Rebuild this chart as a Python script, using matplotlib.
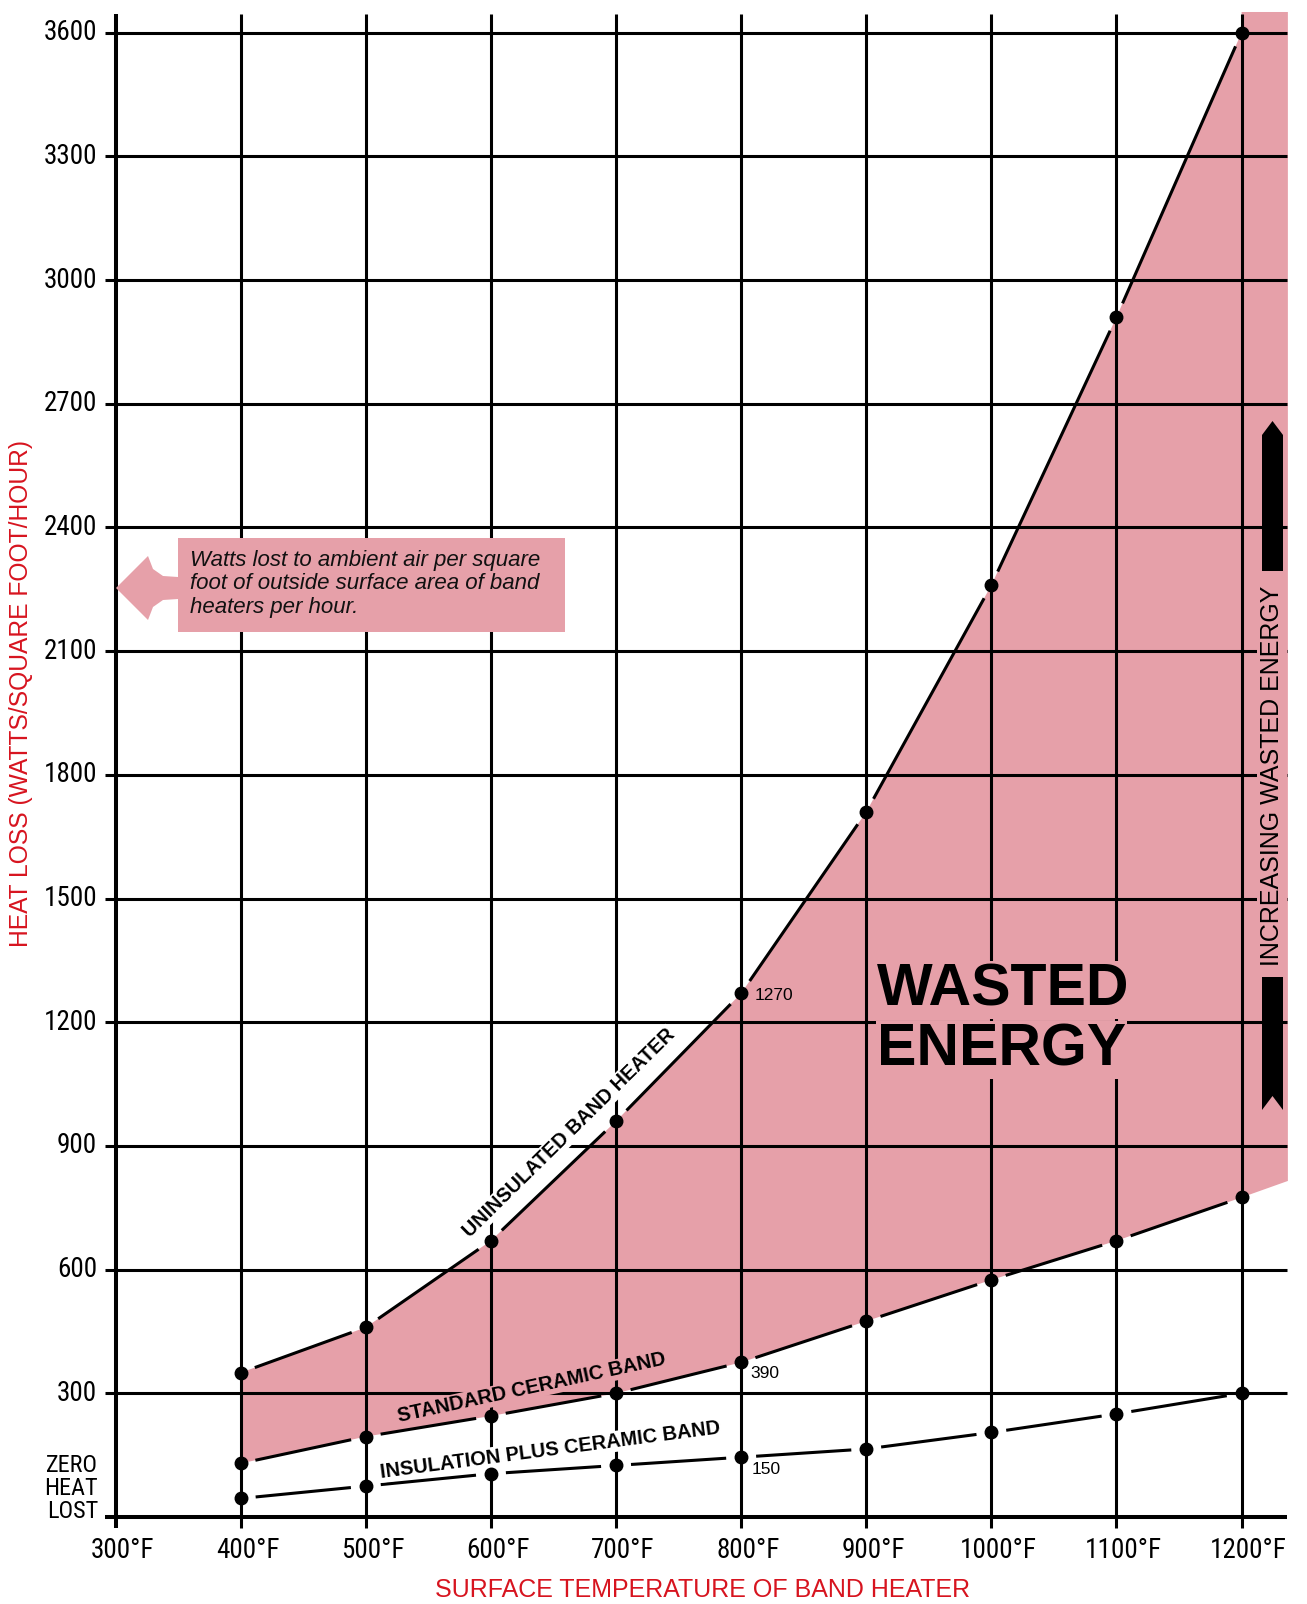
import numpy as np
import matplotlib
matplotlib.use("Agg")
import matplotlib.pyplot as plt
import matplotlib.font_manager as fm
from matplotlib.patches import Polygon

# ---------------- data ----------------
temps = [400, 500, 600, 700, 800, 900, 1000, 1100, 1200]
uninsulated = [350, 460, 670, 960, 1270, 1710, 2260, 2910, 3600]
standard = [130, 195, 245, 300, 375, 475, 575, 670, 775]
insulated = [45, 75, 105, 125, 145, 165, 205, 250, 300]

x_ticks = [300, 400, 500, 600, 700, 800, 900, 1000, 1100, 1200]
x_tick_labels = ["300°F", "400°F", "500°F", "600°F", "700°F", "800°F",
                 "900°F", "1000°F", "1100°F", "1200°F"]
y_ticks = [0, 300, 600, 900, 1200, 1500, 1800, 2100, 2400, 2700, 3000, 3300, 3600]
y_tick_labels = ["", "300", "600", "900", "1200", "1500", "1800", "2100",
                 "2400", "2700", "3000", "3300", "3600"]
zero_label_lines = ["ZERO", "HEAT", "LOST"]

pink_edge_temp = 1237          # right edge of shaded band
pink_top_value = 3650          # top of shaded band past 1200°F
standard_at_edge = 815         # standard line value at right edge

PINK = "#E6A0A9"
RED = "#D7141F"

# ---------------- fonts ----------------
def find_narrow():
    cands = []
    for f in fm.fontManager.ttflist:
        n = f.name.lower()
        st = str(f.stretch).lower()
        if f.style != "normal":
            continue
        w = f.weight
        try:
            w = int(w)
        except Exception:
            w = {"normal": 400, "regular": 400, "book": 400, "medium": 500}.get(str(w).lower(), 700)
        if w > 500:
            continue
        if "narrow" in n or "condensed" in n or "condensed" in st or "narrow" in f.fname.lower() \
                or "condensed" in f.fname.lower():
            if "mono" in n or "serif" in n and "sans" not in n:
                continue
            cands.append(f)
    def rank(f):
        n = f.name.lower() + f.fname.lower()
        if "liberation" in n:
            return 0
        if "roboto" in n:
            return 1
        if "dejavu" in n:
            return 2
        return 3
    cands.sort(key=rank)
    if cands:
        return fm.FontProperties(fname=cands[0].fname), True
    return fm.FontProperties(family="Liberation Sans"), False

narrow_fp, have_narrow = find_narrow()
tick_size = 19.5 if have_narrow else 16.5
zero_size = 17.5 if have_narrow else 14.5

plt.rcParams["font.family"] = ["Liberation Sans", "DejaVu Sans"]

# ---------------- figure / pixel mapping ----------------
W, H = 1307, 1604
fig = plt.figure(figsize=(W / 100, H / 100), dpi=100)
ax = fig.add_axes([0, 0, 1, 1])
ax.set_axis_off()

X0, XS = 115.6, 1.2511     # px of 300°F, px per °F
Y0, YS = 1517.0, 0.41233   # px of 0 W, px per W


def dx(px):
    return 300 + (px - X0) / XS


def dy(py):
    return (Y0 - py) / YS


ax.set_xlim(dx(0), dx(W))
ax.set_ylim(dy(H), dy(0))

# ---------------- shaded wasted-energy band ----------------
poly_x = list(temps) + [temps[-1], pink_edge_temp, pink_edge_temp] + list(temps[::-1])
poly_y = list(uninsulated) + [pink_top_value, pink_top_value, standard_at_edge] + list(standard[::-1])
ax.fill(poly_x, poly_y, color=PINK, lw=0, zorder=1)

# ---------------- grid ----------------
grid_lw = 2.2
ax.hlines(y_ticks[1:], dx(105), dx(1287), color="black", lw=grid_lw, zorder=2)
ax.hlines([0], dx(105), dx(1287), color="black", lw=2.9, zorder=2)
ax.vlines(x_ticks[1:], dy(1528), dy(14), color="black", lw=grid_lw, zorder=2)
ax.vlines([300], dy(1528), dy(14), color="black", lw=2.9, zorder=2)

# ---------------- curves with gaps at the points ----------------
def gapped(xs, ys, gap_px=15, **kw):
    pts = ax.transData.transform(np.column_stack([xs, ys]))
    inv = ax.transData.inverted()
    for i in range(len(pts) - 1):
        p, q = pts[i], pts[i + 1]
        d = q - p
        L = np.hypot(*d)
        u = d / L
        a = inv.transform(p + u * gap_px)
        b = inv.transform(q - u * gap_px)
        ax.plot([a[0], b[0]], [a[1], b[1]], solid_capstyle="butt", **kw)


for series in (uninsulated, standard, insulated):
    gapped(temps, series, color="black", lw=2.2, zorder=3)
    ax.plot(temps, series, "o", color="black", ms=9, zorder=6)

# ---------------- ticks labels ----------------
for v, lab in zip(y_ticks, y_tick_labels):
    if lab:
        ax.text(dx(97), v, lab, ha="right", va="center", fontproperties=narrow_fp,
                fontsize=tick_size, color="black")
for i, line in enumerate(zero_label_lines):
    ax.text(dx(98), dy(1465 + 23.5 * i), line, ha="right", va="center",
            fontproperties=narrow_fp, fontsize=zero_size, color="black")
for v, lab in zip(x_ticks, x_tick_labels):
    ax.text(v + 7 / XS, dy(1550), lab, ha="center", va="center", fontproperties=narrow_fp,
            fontsize=tick_size, color="black")

# axis titles
ax.text(dx(21.5), dy(694), "HEAT LOSS (WATTS/SQUARE FOOT/HOUR)", rotation=90,
        ha="center", va="center", fontsize=17.7, color=RED)
ax.text(dx(703), dy(1590), "SURFACE TEMPERATURE OF BAND HEATER",
        ha="center", va="center", fontsize=18, color=RED)

# ---------------- curve labels ----------------
ax.text(dx(569), dy(1133), "UNINSULATED BAND HEATER", rotation=44.5, rotation_mode="anchor",
        ha="center", va="center", fontsize=14.2, fontweight="bold", zorder=4,
        bbox=dict(boxstyle="square,pad=0.05", fc="white", ec="none"))
ax.text(dx(532), dy(1388), "STANDARD CERAMIC BAND", rotation=12.2, rotation_mode="anchor",
        ha="center", va="center", fontsize=14.4, fontweight="bold", zorder=4,
        bbox=dict(boxstyle="square,pad=0.05", fc=PINK, ec="none"))
ax.text(dx(550), dy(1450), "INSULATION PLUS CERAMIC BAND", rotation=7.5, rotation_mode="anchor",
        ha="center", va="center", fontsize=14.4, fontweight="bold", zorder=4,
        bbox=dict(boxstyle="square,pad=0.05", fc="white", ec="none"))

ax.text(dx(755), dy(995), "1270", ha="left", va="center", fontsize=12.5, zorder=4)
ax.text(dx(750), dy(1374), "390", ha="left", va="center", fontsize=12.5, zorder=4)
ax.text(dx(752), dy(1470), "150", ha="left", va="center", fontsize=12.5, zorder=4)

# ---------------- WASTED ENERGY ----------------
ax.text(dx(877), dy(990), "WASTED", ha="left", va="center", fontsize=42.5, fontweight="bold",
        zorder=4, bbox=dict(boxstyle="square,pad=0.02", fc=PINK, ec="none"))
ax.text(dx(877), dy(1050), "ENERGY", ha="left", va="center", fontsize=42.5, fontweight="bold",
        zorder=4, bbox=dict(boxstyle="square,pad=0.02", fc=PINK, ec="none"))

# ---------------- increasing wasted energy indicator ----------------
ax.text(dx(1272.5), dy(776), "INCREASING WASTED ENERGY", rotation=90, ha="center", va="center",
        fontsize=18, zorder=4, bbox=dict(boxstyle="square,pad=0.12", fc=PINK, ec="none"))
up_bar = [(1262, 571), (1262, 435), (1272.5, 421), (1283, 435), (1283, 571)]
down_bar = [(1262, 977), (1283, 977), (1283, 1110), (1272.5, 1096), (1262, 1110)]
for shape in (up_bar, down_bar):
    ax.add_patch(Polygon([(dx(a), dy(b)) for a, b in shape], closed=True, fc="black",
                         ec="none", zorder=5))

# ---------------- callout box ----------------
callout = [(116, 588), (148, 556), (153, 569), (163, 576), (178, 577), (178, 538),
           (565, 538), (565, 632), (178, 632), (178, 599), (163, 600), (153, 607),
           (148, 620)]
ax.add_patch(Polygon([(dx(a), dy(b)) for a, b in callout], closed=True, fc=PINK,
                     ec="none", zorder=4))
ax.text(dx(190), dy(584),
        "Watts lost to ambient air per square\nfoot of outside surface area of band\nheaters per hour.",
        ha="left", va="center", fontsize=16, style="italic", linespacing=1.16, zorder=5,
        color="#111111")

fig.savefig("out.png", dpi=100)
